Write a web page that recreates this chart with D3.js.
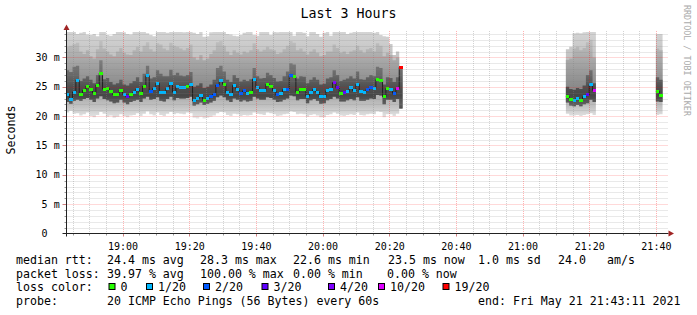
<!DOCTYPE html>
<html>
<head>
<meta charset="utf-8">
<script src="https://cdn.jsdelivr.net/npm/d3@7"></script>
<style>
  body { margin: 0; background: #fff; }
  text { font-family: "DejaVu Sans Mono", monospace; fill: #000; }
</style>
</head>
<body>
<svg id="chart" width="697" height="315"></svg>
<script>
// ---- data (one value per 60s step) ----
const segmentStarts = ["18:43", "21:13", "21:40"];
const segmentLengths = [101, 9, 2];

const medianRtt = [
  23.7, 22.9, 24.1, 26.1, 23.7, 24.4, 25.1, 24.6, 23.9, 25.3,
  27.3, 24.6, 24.7, 24.2, 23.7, 23.7, 24.4, 23.7, 23.3, 23.7,
  24.0, 24.6, 23.9, 25.1, 26.9, 24.2, 24.7, 25.6, 24.0, 24.0,
  24.7, 25.6, 24.1, 25.0, 24.8, 24.8, 25.0, 25.4, 22.6, 23.0,
  23.5, 22.7, 23.0, 23.3, 23.7, 25.3, 26.0, 25.4, 24.0, 23.7,
  25.2, 24.6, 23.8, 24.3, 23.9, 24.1, 26.3, 24.9, 24.4, 24.4,
  25.4, 25.1, 24.3, 23.6, 23.8, 24.5, 24.6, 27.0, 26.7, 24.1,
  24.5, 24.6, 23.4, 24.1, 24.5, 24.1, 23.3, 23.3, 24.3, 24.6,
  25.7, 24.8, 23.9, 24.0, 24.2, 24.8, 24.3, 25.4, 24.2, 24.1,
  24.5, 24.8, 24.7, 26.2, 26.1, 23.3, 24.7, 24.6, 23.8, 24.7,
  28.3,
  23.3, 22.8, 22.7, 23.0, 22.7, 23.3, 23.6, 25.4, 24.4,
  24.2, 23.5
];

// lost pings out of 20
const lossCount = [
  1, 1, 1, 1, 0, 0, 0, 0, 0, 0,
  0, 0, 0, 0, 0, 0, 0, 1, 3, 0,
  1, 1, 0, 0, 1, 2, 1, 1, 1, 1,
  1, 1, 1, 1, 1, 1, 0, 1, 1, 1,
  1, 0, 1, 2, 2, 2, 1, 0, 1, 1,
  1, 1, 2, 2, 1, 0, 1, 1, 1, 1,
  0, 0, 1, 2, 1, 1, 2, 2, 0, 0,
  0, 0, 1, 1, 1, 1, 1, 1, 1, 1,
  4, 3, 0, 3, 1, 1, 1, 1, 1, 1,
  2, 2, 1, 0, 0, 0, 0, 1, 2, 10,
  19,
  0, 0, 1, 1, 0, 1, 3, 1, 10,
  0, 0
];

// smoke: lowest ping, lower edge of dark core, upper edge of dark core,
// upper edge of mid grey, highest ping (ms)
const smokeMin = [
  20.6, 20.9, 20.4, 20.5, 20.1, 20.3, 20.6, 20.0, 19.8, 20.2,
  20.7, 20.4, 19.9, 20.1, 19.7, 19.9, 20.3, 20.0, 19.8, 20.1,
  20.2, 20.5, 20.0, 20.4, 20.8, 20.3, 20.1, 20.6, 20.2, 20.0,
  20.4, 20.7, 20.3, 20.5, 20.4, 20.3, 20.6, 20.5, 19.7, 19.6,
  19.9, 19.6, 19.7, 19.9, 20.1, 20.5, 20.7, 20.6, 20.2, 20.0,
  20.4, 20.3, 20.0, 20.2, 20.1, 20.2, 20.6, 20.4, 20.3, 20.2,
  20.6, 20.5, 20.3, 20.0, 20.1, 20.3, 20.4, 20.8, 20.7, 20.3,
  20.4, 20.3, 19.9, 20.2, 20.3, 20.1, 19.8, 19.8, 20.2, 20.3,
  20.6, 20.4, 20.1, 20.0, 20.2, 20.3, 20.2, 20.6, 20.2, 20.1,
  20.3, 20.4, 20.3, 20.8, 20.7, 19.8, 20.3, 20.3, 20.0, 20.4,
  21.3,
  20.4, 20.1, 20.1, 20.2, 20.0, 20.2, 20.3, 20.5, 20.2,
  20.2, 20.3
];
const smokeLo = [
  22.4, 22.1, 22.6, 22.8, 22.6, 22.9, 23.1, 22.8, 22.4, 23.0,
  23.4, 22.9, 22.7, 22.5, 22.2, 22.3, 22.8, 22.3, 22.0, 22.4,
  22.6, 22.8, 22.4, 23.0, 23.3, 22.8, 22.9, 23.2, 22.6, 22.5,
  22.9, 23.3, 22.7, 23.1, 23.0, 23.0, 23.1, 23.3, 21.8, 22.0,
  22.3, 21.9, 22.1, 22.3, 22.6, 23.2, 23.5, 23.2, 22.7, 22.4,
  23.0, 22.8, 22.5, 22.7, 22.5, 22.6, 23.3, 23.0, 22.8, 22.8,
  23.2, 23.1, 22.8, 22.4, 22.5, 22.8, 23.0, 23.5, 23.4, 22.7,
  22.9, 22.9, 22.2, 22.7, 22.9, 22.6, 22.1, 22.2, 22.7, 22.9,
  23.3, 23.0, 22.5, 22.5, 22.7, 22.9, 22.7, 23.2, 22.6, 22.6,
  22.8, 23.0, 22.9, 23.6, 23.5, 22.0, 22.8, 22.8, 22.4, 22.9,
  21.3,
  22.3, 21.8, 21.7, 21.9, 21.7, 22.0, 22.2, 22.8, 22.4,
  22.5, 22.4
];
const smokeCore = [
  27.8, 27.5, 28.4, 28.6, 26.0, 26.4, 26.8, 26.2, 25.6, 27.0,
  29.5, 26.3, 26.5, 25.8, 25.4, 25.6, 26.2, 25.4, 25.2, 25.6,
  26.0, 26.6, 25.8, 27.2, 28.6, 26.4, 26.6, 27.8, 27.2, 26.8,
  26.8, 27.9, 27.0, 27.4, 26.9, 26.8, 27.0, 27.5, 25.0, 25.2,
  25.6, 24.8, 25.0, 25.4, 26.2, 28.2, 28.6, 27.6, 26.2, 25.8,
  27.0, 26.5, 25.9, 26.2, 26.0, 26.3, 28.2, 26.8, 26.4, 26.5,
  27.4, 27.0, 26.5, 25.9, 26.0, 26.8, 27.6, 29.0, 28.8, 26.4,
  26.8, 26.7, 25.6, 26.2, 26.6, 26.2, 25.4, 25.5, 26.4, 26.6,
  27.8, 27.0, 26.0, 26.2, 26.4, 26.8, 26.4, 27.6, 26.3, 26.2,
  26.6, 27.0, 26.8, 28.4, 28.2, 25.4, 26.6, 26.5, 25.8, 26.6,
  28.3,
  25.0, 24.6, 24.5, 24.8, 24.6, 25.2, 27.0, 27.8, 25.6,
  26.6, 26.2
];
const smokeHi = [
  31.8, 32.0, 32.3, 32.5, 31.0, 30.6, 31.2, 30.2, 29.8, 31.4,
  32.8, 31.5, 31.0, 30.5, 30.2, 31.0, 31.6, 30.8, 30.5, 30.4,
  31.2, 31.8, 31.0, 32.0, 32.6, 31.4, 31.0, 32.4, 32.2, 31.5,
  31.2, 32.5, 32.0, 31.8, 31.5, 31.2, 31.6, 32.2, 30.0, 29.6,
  30.4, 29.5, 29.8, 30.6, 31.2, 32.6, 32.8, 32.0, 31.0, 30.4,
  31.2, 30.8, 30.5, 31.0, 30.8, 31.2, 32.4, 31.4, 31.0, 31.3,
  31.8, 31.4, 31.2, 30.6, 30.8, 31.4, 32.0, 32.8, 32.5, 31.2,
  31.5, 31.0, 30.5, 31.0, 31.4, 30.8, 30.2, 30.4, 31.0, 31.0,
  32.2, 31.6, 30.8, 31.0, 30.6, 31.0, 31.2, 32.0, 31.2, 30.8,
  31.4, 31.6, 31.0, 32.4, 32.0, 30.2, 30.8, 30.4, 29.5, 30.0,
  28.3,
  29.6, 29.8, 31.5, 31.8, 31.2, 31.6, 32.6, 33.0, 30.0,
  31.5, 31.2
];
const smokeMax = [
  34.5, 34.5, 34.5, 34.0, 34.2, 34.5, 33.9, 33.8, 34.0, 33.6,
  34.5, 34.5, 33.8, 33.7, 34.0, 34.5, 34.5, 34.3, 34.0, 33.9,
  34.5, 34.5, 34.5, 34.5, 34.1, 33.8, 33.6, 34.5, 34.5, 34.5,
  34.2, 34.5, 34.5, 34.5, 34.5, 34.3, 34.5, 34.5, 34.2, 34.0,
  34.5, 33.5, 33.6, 34.3, 34.5, 34.5, 34.5, 34.5, 34.0, 33.9,
  33.7, 33.6, 33.8, 34.2, 34.5, 34.5, 33.8, 33.7, 34.5, 34.5,
  34.5, 33.8, 34.5, 34.3, 34.5, 34.5, 34.5, 34.5, 33.7, 34.5,
  34.5, 34.2, 33.6, 34.5, 34.5, 34.0, 33.5, 34.2, 34.5, 33.7,
  34.5, 34.5, 34.5, 34.5, 34.0, 34.2, 34.5, 34.5, 34.5, 34.5,
  34.5, 34.5, 34.2, 34.5, 33.8, 33.6, 33.5, 32.3, 30.4, 31.0,
  28.3,
  31.4, 31.8, 34.1, 34.2, 34.1, 34.3, 34.5, 34.5, 34.5,
  34.0, 34.0
];

const lossLabels = ["0", "1/20", "2/20", "3/20", "4/20", "10/20", "19/20"];
const lossColors = ["#26ff00", "#00b8ff", "#0059ff", "#5e00ff", "#7e00ff", "#dd00ff", "#ff0000"];
const lossThresholds = [1, 2, 3, 4, 10, 19];

const yTicks = [0, 5, 10, 15, 20, 25, 30];
const rttStats = ["24.4 ms avg", "28.3 ms max", "22.6 ms min", "23.5 ms now", "1.0 ms sd", "24.0", "am/s"];
const lossStats = ["39.97 % avg", "100.00 % max", "0.00 % min", "0.00 % now"];
const probeText = "20 ICMP Echo Pings (56 Bytes) every 60s";
const endText = "end: Fri May 21 21:43:11 2021";

// ---- setup ----
const svg = d3.select("#chart");
const plot = { left: 66.5, right: 666.5, top: 32, bottom: 233.5 };
const day = "2021-05-21";
const parseTime = d3.timeParse("%Y-%m-%d %H:%M:%S");
const startTime = parseTime(`${day} 18:43:11`);
const endTime = parseTime(`${day} 21:43:11`);

const x = d3.scaleTime().domain([startTime, endTime]).range([plot.left, plot.right]);
const y = d3.scaleLinear().domain([0, 34.33]).range([plot.bottom, plot.top]);
const lossColor = d3.scaleThreshold().domain(lossThresholds).range(lossColors);

//Build the 60s buckets of each segment
let offset = 0;
const segments = segmentStarts.map((s, si) => {
  const t0 = parseTime(`${day} ${s}:00`);
  const rows = d3.range(segmentLengths[si]).map(j => {
    const k = offset + j;
    return {
      t0: d3.timeMinute.offset(t0, j), t1: d3.timeMinute.offset(t0, j + 1),
      median: medianRtt[k], loss: lossCount[k],
      min: smokeMin[k], lo: smokeLo[k], core: smokeCore[k], hi: smokeHi[k], max: smokeMax[k]
    };
  });
  offset += segmentLengths[si];
  return rows;
});
//step points: each bucket starts at t0, last one closes at t1
const stepPoints = rows => rows.map(r => ({ ...r, t: r.t0 }))
  .concat([{ ...rows[rows.length - 1], t: rows[rows.length - 1].t1 }]);

const defs = svg.append("defs");
defs.append("clipPath").attr("id", "plotClip")
  .append("rect")
  .attr("x", plot.left).attr("y", plot.top)
  .attr("width", plot.right - plot.left).attr("height", plot.bottom - plot.top);

//smoke shading runs vertically (ms -> grey)
const bands = [
  { id: "smokeOuter", lo: "min", hi: "max",
    stops: [[34.3, "#d4d4d4"], [31, "#c6c6c6"], [27, "#bcbcbc"], [23, "#b2b2b2"], [21.5, "#c4c4c4"], [20.5, "#d8d8d8"], [19.5, "#e6e6e6"]] },
  { id: "smokeMid", lo: "lo", hi: "hi",
    stops: [[33, "#c0c0c0"], [30, "#ababab"], [27.5, "#9a9a9a"], [25, "#8a8a8a"], [22, "#8e8e8e"]] },
  { id: "smokeCore", lo: "lo", hi: "core",
    stops: [[29.5, "#7e7e7e"], [27, "#686868"], [25, "#505050"], [23.5, "#474747"], [22, "#5e5e5e"], [21, "#444444"]] }
];
bands.forEach(b => {
  const g = defs.append("linearGradient").attr("id", b.id)
    .attr("gradientUnits", "userSpaceOnUse")
    .attr("x1", 0).attr("x2", 0).attr("y1", y(34.5)).attr("y2", y(19));
  g.selectAll("stop").data(b.stops).enter().append("stop")
    .attr("offset", d => (34.5 - d[0]) / (34.5 - 19))
    .attr("stop-color", d => d[1]);
});

const dataGroup = svg.append("g").attr("clip-path", "url(#plotClip)");

bands.forEach(b => {
  const area = d3.area()
    .x(d => x(d.t)).y0(d => y(d[b.lo])).y1(d => y(d[b.hi]))
    .curve(d3.curveStepAfter);
  dataGroup.selectAll(null)
    .data(segments)
    .enter()
    .append("path")
    .attr("d", rows => area(stepPoints(rows)))
    .attr("fill", `url(#${b.id})`);
});

//median line
const medianLine = d3.line().x(d => x(d.t)).y(d => y(d.median)).curve(d3.curveStepAfter);
dataGroup.selectAll(null)
  .data(segments)
  .enter()
  .append("path")
  .attr("d", rows => medianLine(stepPoints(rows)))
  .attr("fill", "none")
  .attr("stroke", "#202020")
  .attr("stroke-width", 1);

//loss coloured median markers
dataGroup.selectAll(null)
  .data(segments.flat())
  .enter()
  .append("rect")
  .attr("x", d => x(d.t0))
  .attr("width", d => x(d.t1) - x(d.t0))
  .attr("y", d => y(d.median) - 1.5)
  .attr("height", 3)
  .attr("fill", d => lossColor(d.loss))
  .attr("shape-rendering", "crispEdges");

// ---- grid (drawn over the data like rrdtool) ----
const gridGroup = svg.append("g").attr("fill", "none").attr("stroke-dasharray", "1,1");
const minorY = d3.range(1, 35).filter(v => v % 5 !== 0);
const majorY = yTicks.filter(v => v > 0);
const minorX = d3.timeMinute.every(5).range(startTime, endTime).filter(t => t.getMinutes() % 20 !== 0);
const majorX = d3.timeMinute.every(20).range(startTime, endTime);

gridGroup.selectAll(".hminor").data(minorY).enter().append("line")
  .attr("x1", plot.left).attr("x2", plot.right + 2)
  .attr("y1", d => Math.round(y(d)) + 0.5).attr("y2", d => Math.round(y(d)) + 0.5)
  .attr("stroke", "rgba(128,128,128,0.35)");
gridGroup.selectAll(".vminor").data(minorX).enter().append("line")
  .attr("x1", d => Math.round(x(d)) + 0.5).attr("x2", d => Math.round(x(d)) + 0.5)
  .attr("y1", plot.top - 1).attr("y2", plot.bottom)
  .attr("stroke", "rgba(128,128,128,0.35)");
gridGroup.selectAll(".hmajor").data(majorY).enter().append("line")
  .attr("x1", plot.left).attr("x2", plot.right + 2)
  .attr("y1", d => Math.round(y(d)) + 0.5).attr("y2", d => Math.round(y(d)) + 0.5)
  .attr("stroke", "rgba(255,0,0,0.3)");
gridGroup.selectAll(".vmajor").data(majorX).enter().append("line")
  .attr("x1", d => Math.round(x(d)) + 0.5).attr("x2", d => Math.round(x(d)) + 0.5)
  .attr("y1", plot.top - 1).attr("y2", plot.bottom)
  .attr("stroke", "rgba(255,0,0,0.3)");

// ---- axes ----
const axisGroup = svg.append("g");
//tick marks
axisGroup.selectAll(".yt").data(minorY).enter().append("line")
  .attr("x1", plot.left - 2).attr("x2", plot.left)
  .attr("y1", d => Math.round(y(d)) + 0.5).attr("y2", d => Math.round(y(d)) + 0.5)
  .attr("stroke", "#999");
axisGroup.selectAll(".ytm").data(majorY).enter().append("line")
  .attr("x1", plot.left - 4).attr("x2", plot.left)
  .attr("y1", d => Math.round(y(d)) + 0.5).attr("y2", d => Math.round(y(d)) + 0.5)
  .attr("stroke", "#d08080");
axisGroup.selectAll(".xt").data(minorX).enter().append("line")
  .attr("x1", d => Math.round(x(d)) + 0.5).attr("x2", d => Math.round(x(d)) + 0.5)
  .attr("y1", plot.bottom).attr("y2", plot.bottom + 2)
  .attr("stroke", "#999");
axisGroup.selectAll(".xtm").data(majorX).enter().append("line")
  .attr("x1", d => Math.round(x(d)) + 0.5).attr("x2", d => Math.round(x(d)) + 0.5)
  .attr("y1", plot.bottom).attr("y2", plot.bottom + 3)
  .attr("stroke", "#d08080");

axisGroup.append("line")
  .attr("x1", plot.left - 4).attr("x2", plot.right + 2)
  .attr("y1", plot.bottom).attr("y2", plot.bottom)
  .attr("stroke", "#222");
axisGroup.append("line")
  .attr("x1", plot.left).attr("x2", plot.left)
  .attr("y1", plot.bottom + 3).attr("y2", plot.top - 3)
  .attr("stroke", "#222");
axisGroup.append("path")
  .attr("d", `M${plot.right + 2},${plot.bottom - 3}L${plot.right + 7.5},${plot.bottom}L${plot.right + 2},${plot.bottom + 3}Z`)
  .attr("fill", "#a02424");
axisGroup.append("path")
  .attr("d", `M${plot.left - 3},${plot.top - 2}L${plot.left},${plot.top - 7.5}L${plot.left + 3},${plot.top - 2}Z`)
  .attr("fill", "#a02424");

//x labels via d3 axis
const xAxis = d3.axisBottom(x).tickValues(majorX).tickFormat(d3.timeFormat("%H:%M")).tickSize(0).tickPadding(9);
const xg = svg.append("g").attr("transform", `translate(0,${plot.bottom})`).call(xAxis);
xg.select(".domain").remove();
xg.selectAll("text").attr("font-family", "DejaVu Sans Mono").attr("font-size", 10).attr("fill", "#000");

//y labels: number then unit column
const yLabels = svg.append("g").attr("font-size", 10);
yLabels.selectAll(".num").data(yTicks).enter().append("text")
  .attr("x", 47.5).attr("y", d => y(d) + 3.5)
  .attr("text-anchor", "end")
  .text(d => d);
yLabels.selectAll(".unit").data(yTicks.filter(v => v > 0)).enter().append("text")
  .attr("x", 53.8).attr("y", d => y(d) + 3.5)
  .text("m");

// ---- titles ----
svg.append("text").attr("x", 348.5).attr("y", 18).attr("text-anchor", "middle")
  .attr("font-size", 13.3).text("Last 3 Hours");
svg.append("text").attr("transform", "translate(14.5,130) rotate(-90)").attr("text-anchor", "middle")
  .attr("font-size", 11.6).text("Seconds");
svg.append("text").attr("transform", "translate(684,5) rotate(90)")
  .attr("font-size", 8.4).style("fill", "#aaaaaa").text("RRDTOOL / TOBI OETIKER");

// ---- legend ----
const legend = svg.append("g").attr("font-size", 11.6).style("white-space", "pre");
const rowY = [264, 277.5, 291, 304.5];
const valueX = 107;
legend.append("text").attr("x", 16).attr("y", rowY[0]).text("median rtt:");
const rttX = [107, 200, 293, 388, 478, 558, 607];
rttStats.forEach((s, i) => legend.append("text").attr("x", rttX[i]).attr("y", rowY[0]).text(s));

legend.append("text").attr("x", 16).attr("y", rowY[1]).text("packet loss:");
const lossX = [107, 200, 293, 387];
lossStats.forEach((s, i) => legend.append("text").attr("x", lossX[i]).attr("y", rowY[1]).text(s));

legend.append("text").attr("x", 16).attr("y", rowY[2]).text("loss color:");
const swatchX = [108.5, 146, 203, 261.5, 328, 378, 442.5];
const sw = legend.selectAll(".sw").data(lossLabels).enter().append("g");
sw.append("rect")
  .attr("x", (d, i) => swatchX[i] + 0.5).attr("y", rowY[2] - 7.5)
  .attr("width", 6).attr("height", 6)
  .attr("fill", (d, i) => lossColors[i]).attr("stroke", "#000").attr("stroke-width", 1);
sw.append("text")
  .attr("x", (d, i) => swatchX[i] + 12).attr("y", rowY[2])
  .text(d => d);

legend.append("text").attr("x", 16).attr("y", rowY[3]).text("probe:");
legend.append("text").attr("x", valueX).attr("y", rowY[3]).text(probeText);
legend.append("text").attr("x", 478).attr("y", rowY[3]).text(endText);
</script>
</body>
</html>
